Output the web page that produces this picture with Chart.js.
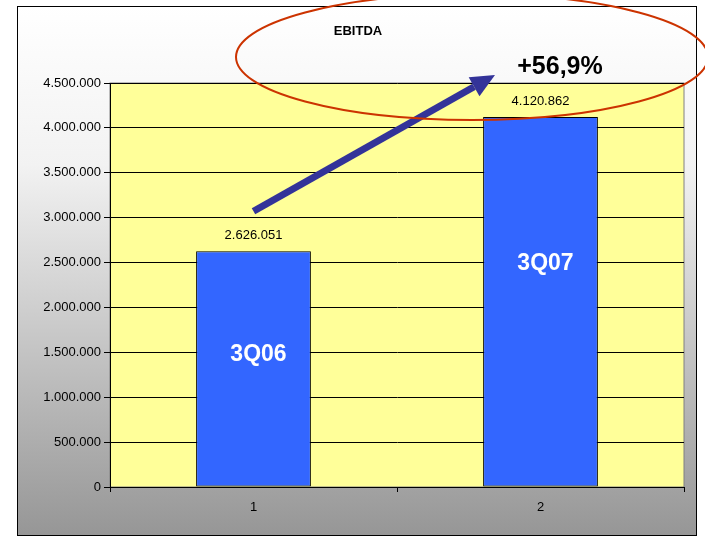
<!DOCTYPE html>
<html>
<head>
<meta charset="utf-8">
<script src="https://cdn.jsdelivr.net/npm/chart.js@4"></script>
<style>
  html, body { margin: 0; padding: 0; background: #fff; }
  #wrap { width: 705px; height: 538px; }
</style>
</head>
<body>
<div id="wrap"><canvas id="ebitda"></canvas></div>
<script>
const categories = ['1', '2'];
const periodNames = ['3Q06', '3Q07'];
const ebitdaValues = [2626051, 4120862];
const growthText = '+56,9%';
const chartTitle = 'EBITDA';

const fmt = (v) => Math.round(v).toString().replace(/\B(?=(\d{3})+(?!\d))/g, '.');

// background frame, yellow plot area, annotations
const decorations = {
    id: 'decorations',
    beforeDraw(chart) {
        const { ctx, chartArea } = chart;
        ctx.save();
        const g = ctx.createLinearGradient(0, 6, 0, 536);
        g.addColorStop(0, '#ffffff');
        g.addColorStop(0.3, '#f2f2f2');
        g.addColorStop(1, '#969696');
        ctx.fillStyle = g;
        ctx.fillRect(17, 6, 680, 530);
        ctx.strokeStyle = '#000';
        ctx.lineWidth = 1;
        ctx.strokeRect(17.5, 6.5, 679, 529);
        ctx.fillStyle = '#ffff99';
        ctx.fillRect(chartArea.left, chartArea.top, chartArea.right - chartArea.left, chartArea.bottom - chartArea.top);
        ctx.strokeStyle = '#808080';
        ctx.strokeRect(chartArea.left, chartArea.top, chartArea.right - chartArea.left, chartArea.bottom - chartArea.top);
        ctx.restore();
    },
    afterDatasetsDraw(chart) {
        const { ctx, chartArea } = chart;
        const meta = chart.getDatasetMeta(0);
        ctx.save();
        ctx.textAlign = 'center';
        ctx.textBaseline = 'middle';
        // values above bars
        ctx.fillStyle = '#000';
        ctx.font = '13px "Liberation Sans", Arial, sans-serif';
        meta.data.forEach((bar, i) => {
            ctx.fillText(fmt(ebitdaValues[i]), bar.x, bar.y - 16);
        });
        // period names inside bars
        ctx.fillStyle = '#fff';
        ctx.font = 'bold 23px "Liberation Sans", Arial, sans-serif';
        const inner = [103, 147];
        meta.data.forEach((bar, i) => {
            ctx.fillText(periodNames[i], bar.x + 5, bar.y + inner[i]);
        });
        // title
        ctx.fillStyle = '#000';
        ctx.font = 'bold 13px "Liberation Sans", Arial, sans-serif';
        ctx.fillText(chartTitle, 358, 31);
        ctx.font = 'bold 25px "Liberation Sans", Arial, sans-serif';
        ctx.fillText(growthText, 560, 67);
        // arrow
        const x0 = meta.data[0].x, y0 = meta.data[0].y;
        const sx = x0, sy = y0 - 40;
        const ex = chartArea.left + 385, ey = 75;
        const ang = Math.atan2(ey - sy, ex - sx);
        const hl = 24, hw = 11;
        const bx = ex - hl * Math.cos(ang), by = ey - hl * Math.sin(ang);
        ctx.strokeStyle = '#333399';
        ctx.fillStyle = '#333399';
        ctx.lineWidth = 7;
        ctx.beginPath();
        ctx.moveTo(sx, sy);
        ctx.lineTo(bx, by);
        ctx.stroke();
        ctx.beginPath();
        ctx.moveTo(ex, ey);
        ctx.lineTo(bx + hw * Math.sin(ang), by - hw * Math.cos(ang));
        ctx.lineTo(bx - hw * Math.sin(ang), by + hw * Math.cos(ang));
        ctx.closePath();
        ctx.fill();
        // ellipse
        ctx.strokeStyle = '#cc3300';
        ctx.lineWidth = 2;
        ctx.beginPath();
        ctx.ellipse(472, 57, 236, 63, 0, 0, Math.PI * 2);
        ctx.stroke();
        ctx.restore();
    }
};

new Chart(document.getElementById('ebitda'), {
    type: 'bar',
    data: {
        labels: categories,
        datasets: [{
            label: chartTitle,
            data: ebitdaValues,
            backgroundColor: '#3366ff',
            borderColor: '#000',
            borderWidth: 1,
            borderSkipped: false,
            barPercentage: 0.4,
            categoryPercentage: 1
        }]
    },
    options: {
        responsive: true,
        maintainAspectRatio: false,
        animation: false,
        layout: { padding: { left: 17, right: 21, top: 83, bottom: 0 } },
        plugins: {
            legend: { display: false },
            tooltip: { enabled: false }
        },
        scales: {
            x: {
                offset: true,
                grid: { display: true, drawOnChartArea: false, drawTicks: true, tickLength: 5, color: '#000', offset: true },
                border: { color: '#000' },
                ticks: { color: '#000', font: { size: 13, family: '"Liberation Sans", Arial, sans-serif' }, padding: 8 },
                afterFit(scale) { scale.height = 51; }
            },
            y: {
                min: 0,
                max: 4500000,
                grid: { color: '#000', tickLength: 6, lineWidth: 1 },
                border: { color: '#000' },
                ticks: {
                    stepSize: 500000,
                    color: '#000',
                    padding: 3,
                    font: { size: 13, family: '"Liberation Sans", Arial, sans-serif' },
                    callback: (v) => fmt(v)
                },
                afterFit(scale) { scale.width = 93; }
            }
        }
    },
    plugins: [decorations]
});
</script>
</body>
</html>
